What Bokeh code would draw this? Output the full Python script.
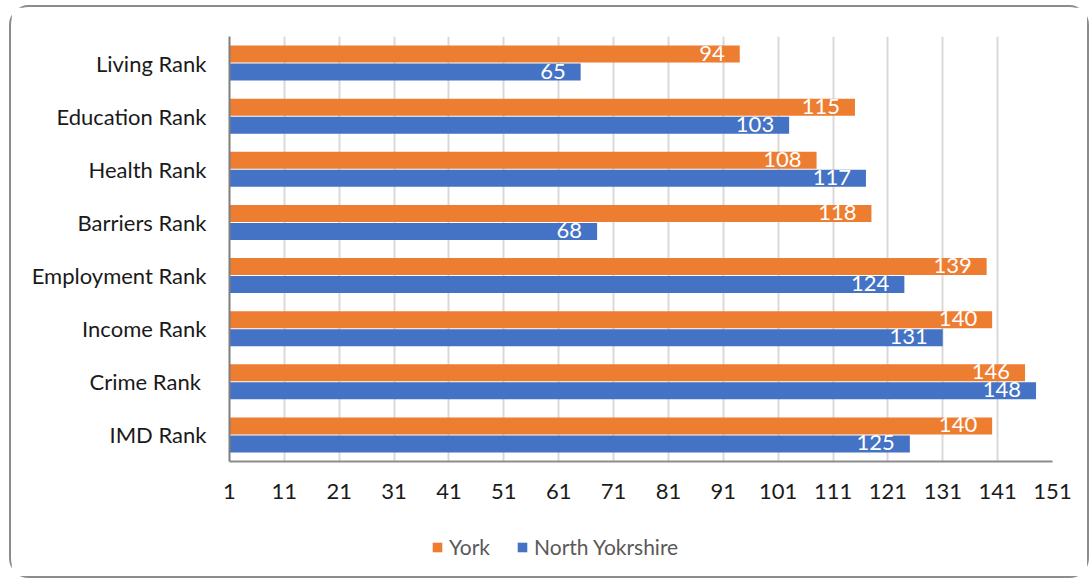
from bokeh.plotting import figure
from bokeh.layouts import column
from bokeh.models import (ColumnDataSource, FactorRange, Range1d, FixedTicker,
                          Legend, LegendItem)
from bokeh.transform import dodge
from bokeh.core.properties import value
from bokeh.embed import file_html
from bokeh.resources import INLINE

categories = ["Living Rank", "Education Rank", "Health Rank", "Barriers Rank",
              "Employment Rank", "Income Rank", "Crime Rank ", "IMD Rank"]
york = [94, 115, 108, 118, 139, 140, 146, 140]
north_yorkshire = [65, 103, 117, 68, 124, 131, 148, 125]
x_ticks = list(range(1, 152, 10))
series_names = ["York", "North Yokrshire"]

ORANGE = "#ED7D31"
BLUE = "#4472C4"
FONT = "Lato"

src = ColumnDataSource(dict(
    cat=categories,
    york=york,
    north=north_yorkshire,
    york_lbl=[str(v) for v in york],
    north_lbl=[str(v) for v in north_yorkshire],
))

p = figure(width=1076, height=506, output_backend="svg", toolbar_location=None,
           y_range=FactorRange(factors=list(reversed(categories)), range_padding=0),
           x_range=Range1d(1, 151),
           min_border_left=218, min_border_right=35,
           min_border_top=29, min_border_bottom=52)
p.outline_line_color = None
p.background_fill_color = "white"
p.border_fill_color = "white"

r_york = p.hbar(y=dodge("cat", 0.17, range=p.y_range), left=1, right="york",
                height=0.32, source=src, fill_color=ORANGE, line_color=None)
r_north = p.hbar(y=dodge("cat", -0.17, range=p.y_range), left=1, right="north",
                 height=0.32, source=src, fill_color=BLUE, line_color=None)

p.text(x="york", y=dodge("cat", 0.17, range=p.y_range), text="york_lbl", source=src,
       x_offset=-15, y_offset=-1, text_align="right", text_baseline="middle",
       text_color="white", text_font=value(FONT), text_font_size="22px")
p.text(x="north", y=dodge("cat", -0.17, range=p.y_range), text="north_lbl", source=src,
       x_offset=-15, y_offset=-1, text_align="right", text_baseline="middle",
       text_color="white", text_font=value(FONT), text_font_size="22px")

# axes
p.xaxis.ticker = FixedTicker(ticks=x_ticks)
p.xaxis.major_tick_line_color = None
p.xaxis.minor_tick_line_color = None
p.xaxis.axis_line_color = "#8c8c8c"
p.xaxis.axis_line_width = 2
p.xaxis.major_label_text_font = FONT
p.xaxis.major_label_text_font_size = "22px"
p.xaxis.major_label_text_color = "#1a1a1a"
p.xaxis.major_label_standoff = 16

p.yaxis.major_tick_line_color = None
p.yaxis.minor_tick_line_color = None
p.yaxis.axis_line_color = "#7f7f7f"
p.yaxis.axis_line_width = 2
p.yaxis.major_label_text_font = FONT
p.yaxis.major_label_text_font_size = "22px"
p.yaxis.major_label_text_color = "#1a1a1a"
p.yaxis.major_label_standoff = 17

p.xgrid.ticker = FixedTicker(ticks=x_ticks)
p.xgrid.grid_line_color = "#d9d9d9"
p.xgrid.grid_line_width = 2
p.ygrid.grid_line_color = None

# legend strip: same series styles with zero-height rows, so only the legend shows
lg = figure(width=1076, height=63, output_backend="svg", toolbar_location=None,
            x_axis_type=None, y_axis_type=None,
            y_range=FactorRange(factors=list(reversed(categories)), range_padding=0),
            x_range=Range1d(1, 151),
            min_border_left=0, min_border_right=0, min_border_top=0, min_border_bottom=0)
lg.outline_line_color = None
lg.grid.grid_line_color = None
lg_york = lg.hbar(y="cat", left=1, right="york", height=0, source=src,
                  fill_color=ORANGE, line_color=None)
lg_north = lg.hbar(y="cat", left=1, right="north", height=0, source=src,
                   fill_color=BLUE, line_color=None)

legend = Legend(items=[LegendItem(label=series_names[0], renderers=[lg_york]),
                       LegendItem(label=series_names[1], renderers=[lg_north])],
                location=(202, 17), orientation="horizontal",
                glyph_width=12, glyph_height=12, label_standoff=6, spacing=26,
                padding=0, margin=0, border_line_color=None,
                background_fill_alpha=0,
                label_text_font=FONT, label_text_font_size="21px",
                label_text_color="#595959")
lg.add_layout(legend, "center")

layout = column(p, lg, spacing=0)
layout.styles = {"border": "2px solid #8c8c8c", "border-radius": "20px",
                 "margin": "5px 0px 0px 9px"}

open("out.html", "w").write(file_html(layout, INLINE))
